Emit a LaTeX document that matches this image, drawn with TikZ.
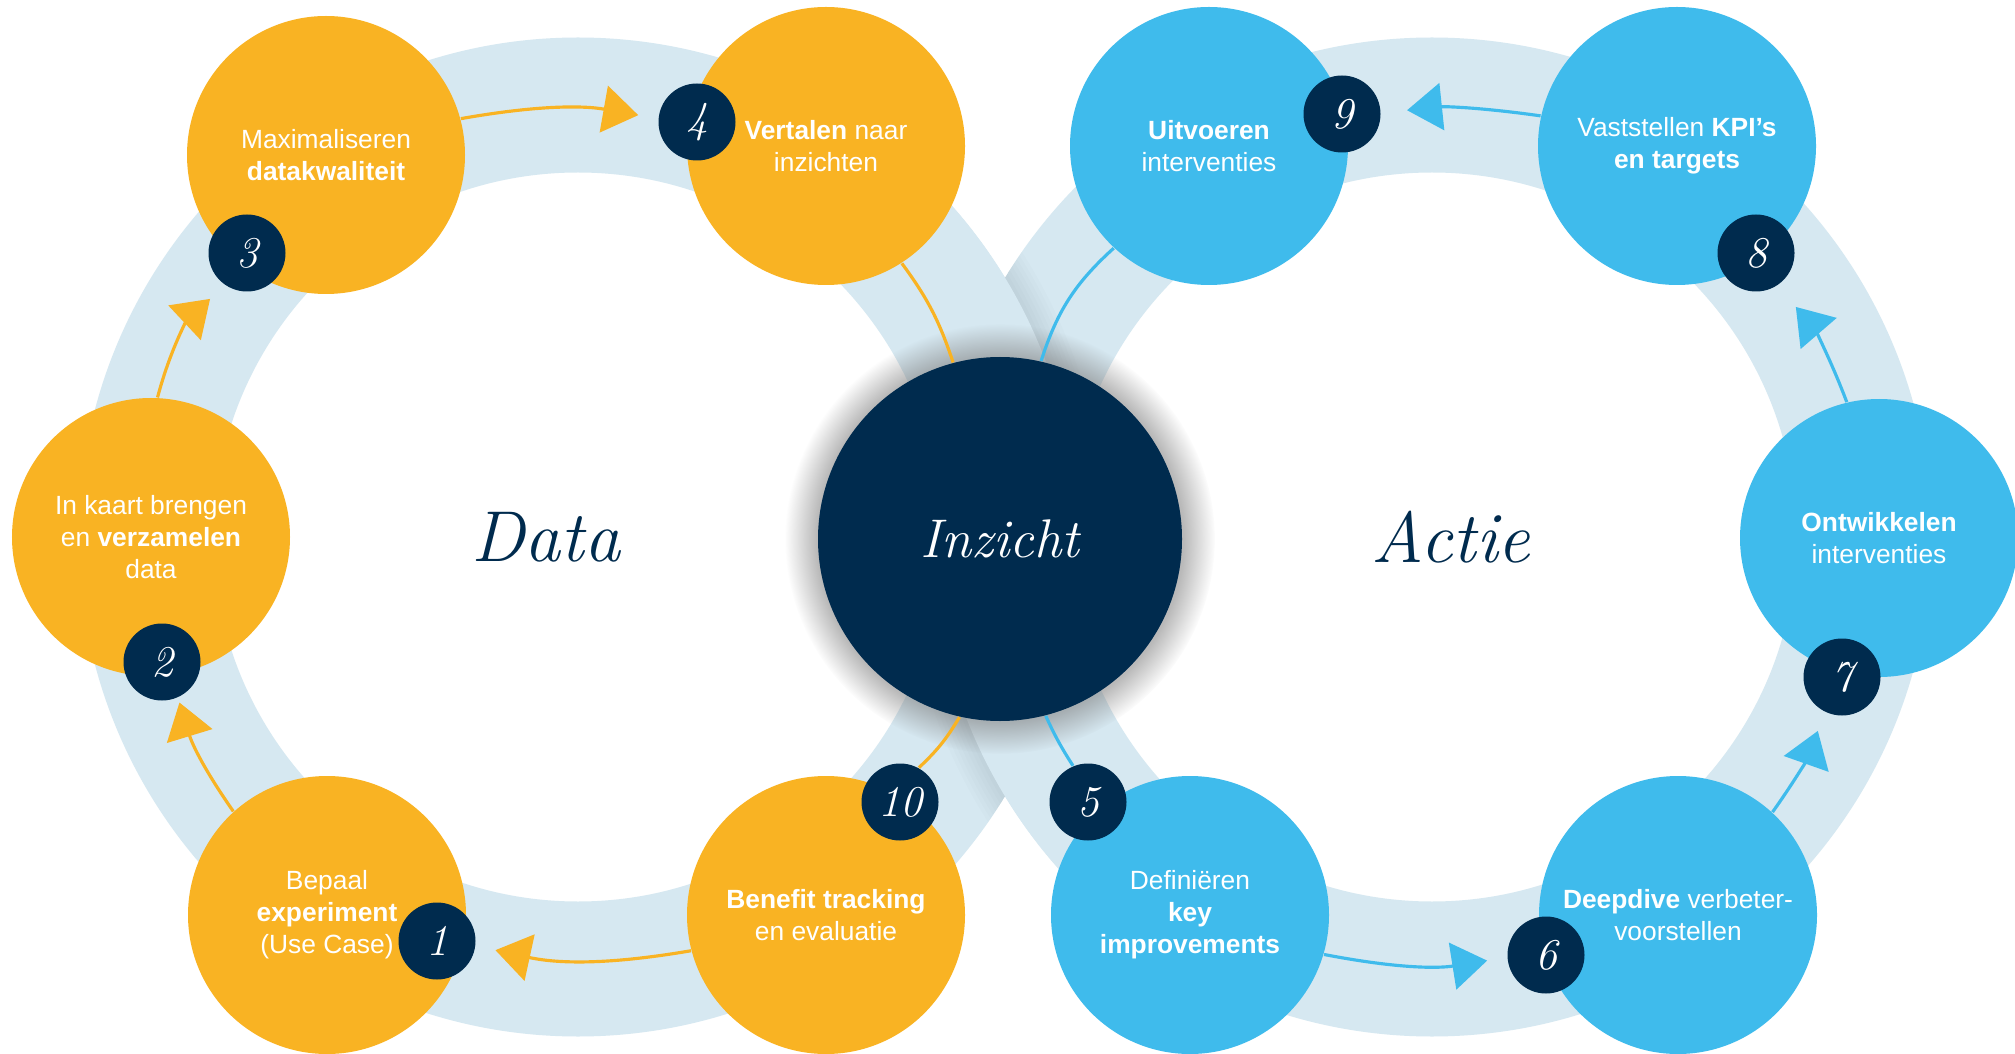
\documentclass[tikz,border=0pt]{standalone}
\usepackage{fontspec}
\setsansfont{Liberation Sans}
\usetikzlibrary{arrows.meta,shadows}

\definecolor{oranje}{HTML}{F9B323}
\definecolor{lichtblauw}{HTML}{3FBBEC}
\definecolor{navy}{HTML}{002B4E}
\definecolor{band}{HTML}{D6E8F1}

\tikzset{
  stap/.style={shape=circle, minimum size=2.78cm, inner sep=0pt, align=center, text=white, font=\sffamily\fontsize{7.5}{9.1}\selectfont},
  datastap/.style={stap, fill=oranje},
  actiestap/.style={stap, fill=lichtblauw},
  nummer/.style={shape=circle, fill=navy, minimum size=0.77cm, inner sep=0pt, text=white, font=\itshape\fontsize{12.5}{12.5}\selectfont},
  pijl/.style={line width=0.9pt, -{Triangle[length=3.5mm,width=4.7mm]}, shorten >=2mm},
  lijn/.style={line width=0.9pt},
  titel/.style={text=navy, font=\itshape\fontsize{20.5}{20.5}\selectfont},
  ring/.style={band, line width=1.35cm},
  schaduw/.style={black, opacity=0.012},
}

\begin{document}
\begin{tikzpicture}
    \fill[white] (0,0) rectangle (20.15,10.53);
    \useasboundingbox (0,0) rectangle (20.15,10.53);
    \draw[ring] (5.78,5.16) circle (4.32);
    \draw[ring] (14.32,5.16) circle (4.32);
    % kruising boven: data-band over actie-band
    \begin{scope}
      \clip (9.3,5.16) rectangle (10.8,10.53);
      \clip (14.32,5.16) circle (4.995);
      \foreach \w in {0.08,0.16,...,0.64}
        \draw[schaduw, line width=\w cm] (5.78,5.16) circle (4.995);
    \end{scope}
    \begin{scope}
      \clip (9.3,5.16) rectangle (10.8,10.53);
      \draw[ring] (5.78,5.16) circle (4.32);
    \end{scope}
    % kruising onder: actie-band over data-band
    \begin{scope}
      \clip (9.2,0) rectangle (10.7,5.16);
      \clip (5.78,5.16) circle (4.995);
      \foreach \w in {0.08,0.16,...,0.64}
        \draw[schaduw, line width=\w cm] (14.32,5.16) circle (4.995);
    \end{scope}
    \begin{scope}
      \clip (9.2,0) rectangle (10.7,5.16);
      \draw[ring] (14.32,5.16) circle (4.32);
    \end{scope}
    \node[datastap] (c1) at (3.27,1.38) {Bepaal\\\textbf{experiment}\\(Use Case)};
    \node[datastap] (c2) at (1.51,5.16) {In kaart brengen\\en \textbf{verzamelen}\\data};
    \node[datastap] (c3) at (3.26,8.98) {Maximaliseren\\\textbf{datakwaliteit}};
    \node[datastap] (c4) at (8.26,9.07) {\textbf{Vertalen} naar\\inzichten};
    \node[datastap] (c10) at (8.26,1.38) {\textbf{Benefit tracking}\\en evaluatie};
    \node[actiestap] (c5) at (11.90,1.38) {Definiëren\\\textbf{key}\\\textbf{improvements}};
    \node[actiestap] (c6) at (16.78,1.38) {\textbf{Deepdive} verbeter-\\voorstellen};
    \node[actiestap] (c7) at (18.79,5.15) {\textbf{Ontwikkelen}\\interventies};
    \node[actiestap] (c8) at (16.77,9.07) {Vaststellen \textbf{KPI’s}\\\textbf{en targets}};
    \node[actiestap] (c9) at (12.09,9.07) {\textbf{Uitvoeren}\\interventies};
    \node[shape=circle, fill=navy, minimum size=3.64cm, text=white, font=\itshape\fontsize{15.5}{15.5}\selectfont,
      circular drop shadow={shadow xshift=0pt, shadow yshift=0pt, shadow scale=1.18, opacity=0.55}] (inzicht) at (10.00,5.14) {Inzicht};
    \node[nummer] (n1) at (4.37,1.12) {1};
    \node[nummer] (n2) at (1.62,3.91) {2};
    \node[nummer] (n3) at (2.47,8.00) {3};
    \node[nummer] (n4) at (6.97,9.31) {4};
    \node[nummer] (n5) at (10.88,2.51) {5};
    \node[nummer] (n6) at (15.46,0.98) {6};
    \node[nummer] (n7) at (18.42,3.76) {7};
    \node[nummer] (n8) at (17.56,8.00) {8};
    \node[nummer] (n9) at (13.42,9.39) {9};
    \node[nummer] (n10) at (9.00,2.51) {10};
    \node[titel] (data) at (5.46,5.16) {Data};
    \node[titel] (actie) at (14.51,5.16) {Actie};
    % data-cirkel
    \draw[pijl, oranje, shorten >=0.5mm] (c1) to[bend left=9] (n2);
    \draw[pijl, oranje] (c2) to[bend left=16] (n3);
    \draw[pijl, oranje] (c3) to[bend left=10] (n4);
    \draw[lijn, oranje] (c4) to[bend left=9] (inzicht);
    \draw[lijn, oranje] (inzicht) to[bend left=8] (n10);
    \draw[pijl, oranje] (c10) to[bend left=11] (n1);
    % actie-cirkel
    \draw[lijn, lichtblauw] (inzicht) to[bend right=4] (n5);
    \draw[pijl, lichtblauw] (c5) to[bend right=10] (n6);
    \draw[pijl, lichtblauw] (c6) to[bend right=8] (n7);
    \draw[pijl, lichtblauw, shorten >=2.8mm] (c7) to[bend right=10] (n8);
    \draw[pijl, lichtblauw, shorten >=2.6mm] (c8) to[bend right=7] (n9);
    \draw[lijn, lichtblauw] (c9) to[bend right=15] (inzicht);
\end{tikzpicture}
\end{document}
